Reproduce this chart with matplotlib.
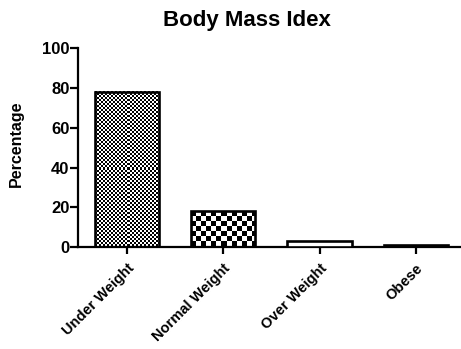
import numpy as np
import matplotlib
matplotlib.use("Agg")
import matplotlib.pyplot as plt

categories = ["Under Weight", "Normal Weight", "Over Weight", "Obese"]
percentages = [78, 18, 3, 1]
# checker cell size in pixels for each bar (0 = plain white)
checker_cells = [2, 5, 0, 0]

plt.rcParams['font.family'] = ['Liberation Sans', 'DejaVu Sans']
plt.rcParams['font.weight'] = 'bold'

fig = plt.figure(figsize=(4.61, 3.49), dpi=100)
ax = fig.add_axes([0.169, 0.292, 0.831, 0.570])

x = np.arange(len(categories))
bars = ax.bar(x, percentages, width=0.67, color='white', edgecolor='black',
              linewidth=1.9, zorder=3)

ax.set_xlim(-0.51, 3.47)
ax.set_ylim(0, 100)
fig.canvas.draw()

# fill the patterned bars with a black/white checkerboard clipped to the bar
for bar, cell in zip(bars, checker_cells):
    if cell == 0:
        continue
    bar.set_facecolor('none')
    bb = bar.get_window_extent()
    nx = max(int(round(bb.width)), 1)
    ny = max(int(round(bb.height)), 1)
    yy, xx = np.mgrid[0:ny, 0:nx]
    board = ((xx // cell + yy // cell) % 2).astype(float)
    x0, y0 = bar.get_xy()
    ax.imshow(board, cmap='gray', interpolation='nearest', aspect='auto',
              extent=[x0, x0 + bar.get_width(), y0, y0 + bar.get_height()],
              clip_path=bar, zorder=2)

ax.set_xlim(-0.51, 3.47)
ax.set_ylim(0, 100)

ax.spines['top'].set_visible(False)
ax.spines['right'].set_visible(False)
ax.spines['left'].set_linewidth(1.6)
ax.spines['bottom'].set_linewidth(1.6)

ax.set_yticks([0, 20, 40, 60, 80, 100])
ax.set_xticks(x)
ax.set_xticklabels(categories, rotation=45, ha='right', rotation_mode='anchor',
                   fontsize=10.5, fontweight='bold')
ax.tick_params(axis='y', direction='out', length=6, width=1.6, labelsize=12, pad=0)
ax.tick_params(axis='x', direction='out', length=5, width=1.6, pad=5)
for lbl in ax.get_yticklabels():
    lbl.set_fontweight('bold')

ax.set_ylabel("Percentage", fontsize=11.5, fontweight='bold')
ax.yaxis.set_label_coords(-0.141, 0.518)
fig.text(0.536, 0.94, "Body Mass Idex", ha='center', va='center',
         fontsize=16, fontweight='bold')

fig.savefig("out.png", dpi=100)
